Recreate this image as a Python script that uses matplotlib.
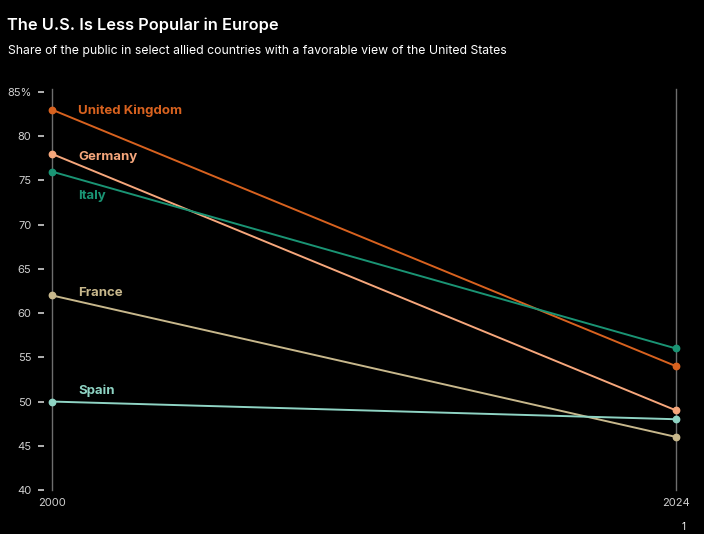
import matplotlib
matplotlib.use("Agg")
import matplotlib.pyplot as plt

# data
years = [2000, 2024]
countries = ["United Kingdom", "Germany", "Italy", "France", "Spain"]
fav_2000 = [83, 78, 76, 62, 50]
fav_2024 = [54, 49, 56, 46, 48]
colors = ["#d8621f", "#f6a77c", "#1a9474", "#c8b88c", "#8fd4c4"]
# label offsets (pixels) relative to the 2000 point
label_dy = [-1, -3, -24, 2, 11]

plt.rcParams["font.family"] = ["Inter", "DejaVu Sans"]

fig = plt.figure(figsize=(7.04, 5.34), dpi=100, facecolor="black")
W, H = 704, 534
# axes left edge at px 44, right at px 690, top px 92 (85), bottom px 490 (40)
ax = fig.add_axes([44 / W, (H - 490) / H, (690 - 44) / W, (490 - 92) / H])
ax.set_facecolor("black")

ax.set_xlim(2000 - 8 / 26, 2024 + 14 / 26)
ax.set_ylim(40, 85)

for yr in years:
    ax.plot([yr, yr], [40, 85.3], color="#6e6e6e", lw=1, zorder=1, clip_on=False)

for name, a, b, c, dy in zip(countries, fav_2000, fav_2024, colors, label_dy):
    ax.plot(years, [a, b], color=c, lw=1.4, marker="o", ms=4.6, zorder=3, clip_on=False)
    ax.annotate(name, xy=(years[0], a), xytext=(26 * 0.72, dy * 0.72),
                textcoords="offset points", color=c, fontsize=9.5,
                fontweight="bold", va="center", ha="left")

for s in ax.spines.values():
    s.set_visible(False)

ax.set_yticks(range(40, 90, 5))
ax.set_yticklabels([str(v) if v != 85 else "85%" for v in range(40, 90, 5)])
ax.tick_params(axis="y", colors="#cfcfcf", length=4, width=1.2, pad=5, labelsize=8)
ax.set_xticks(years)
ax.set_xticklabels([str(y) for y in years])
ax.tick_params(axis="x", colors="#cfcfcf", length=0, pad=6, labelsize=8)

fig.text(7 / W, 1 - 25 / H, "The U.S. Is Less Popular in Europe", color="white",
         fontsize=11.8, fontweight="semibold", va="center", ha="left")
fig.text(8 / W, 1 - 51 / H,
         "Share of the public in select allied countries with a favorable view of the United States",
         color="white", fontsize=8.8, va="center", ha="left")
fig.text(683 / W, 1 - 527 / H, "1", color="white", fontsize=7, va="center", ha="center")

fig.savefig("out.png", dpi=100, facecolor="black")
